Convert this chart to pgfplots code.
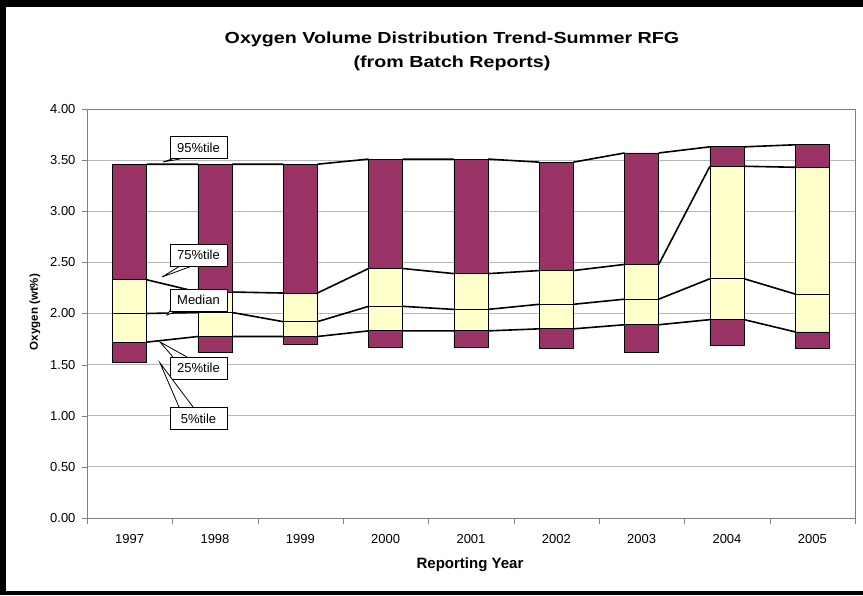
\documentclass[border=0pt]{standalone}
\usepackage{graphicx}
\usepackage{pgfplots}
\usepackage{pgfplotstable}
\pgfplotsset{compat=1.18}
\usepackage{fontspec}
\setmainfont{Liberation Sans}

\definecolor{plum}{HTML}{993366}
\definecolor{cream}{HTML}{FFFFCC}
\definecolor{gridgray}{HTML}{B8B8B8}
\definecolor{axgray}{HTML}{808080}

% percentiles of oxygen (wt%) per reporting year, 0 = 1997
\pgfplotstableread{
x  p5    p25   p50  p75  p95
0  1.525 1.72  2.00 2.33 3.46
1  1.62  1.775 2.01 2.21 3.46
2  1.70  1.775 1.92 2.20 3.46
3  1.67  1.83  2.07 2.44 3.51
4  1.67  1.83  2.04 2.39 3.51
5  1.655 1.85  2.09 2.42 3.48
6  1.62  1.89  2.14 2.48 3.57
7  1.69  1.94  2.34 3.44 3.63
8  1.655 1.82  2.19 3.43 3.65
}\oxy

% series lines, from the right edge of one bar to the left edge of the next
\pgfplotstableread{
x   p25   p50  p75  p95
0.2 1.72  2.00 2.33 3.46
0.8 1.775 2.01 2.21 3.46
nan nan   nan  nan  nan
1.2 1.775 2.01 2.21 3.46
1.8 1.775 1.92 2.20 3.46
nan nan   nan  nan  nan
2.2 1.775 1.92 2.20 3.46
2.8 1.83  2.07 2.44 3.51
nan nan   nan  nan  nan
3.2 1.83  2.07 2.44 3.51
3.8 1.83  2.04 2.39 3.51
nan nan   nan  nan  nan
4.2 1.83  2.04 2.39 3.51
4.8 1.85  2.09 2.42 3.48
nan nan   nan  nan  nan
5.2 1.85  2.09 2.42 3.48
5.8 1.89  2.14 2.48 3.57
nan nan   nan  nan  nan
6.2 1.89  2.14 2.48 3.57
6.8 1.94  2.34 3.44 3.63
nan nan   nan  nan  nan
7.2 1.94  2.34 3.44 3.63
7.8 1.82  2.19 3.43 3.65
}\edges

\pgfplotsset{
  frame/.style={
    at={(0pt,0pt)}, anchor=south west,
    scale only axis, width=768pt, height=409pt,
    xmin=-0.5, xmax=8.5, ymin=0, ymax=4,
  },
}

\begin{document}
\begin{tikzpicture}
\begin{axis}[
  frame,
  ybar stacked, bar width=0.4,
  axis line style={draw=axgray},
  ymajorgrids, grid style={draw=gridgray, line width=0.8pt},
  tick align=outside, tick pos=left,
  xtick={0,...,8},
  xticklabels={1997,1998,1999,2000,2001,2002,2003,2004,2005},
  minor xtick={-0.5,0.5,...,8.5},
  major x tick style={draw=none},
  minor x tick style={draw=axgray},
  ytick={0,0.5,...,4},
  major tick length=5pt, minor tick length=6pt,
  ytick style={draw=axgray},
  tick label style={font=\fontsize{13}{14}\selectfont},
  xticklabel style={yshift=-8pt},
  yticklabel style={xshift=-3pt, /pgf/number format/.cd, fixed, fixed zerofill,
    precision=2, assume math mode=true},
]
\addplot[draw=none, fill=none] table[x=x, y=p5] {\oxy};
\addplot[fill=plum, draw=black, line width=0.8pt]
  table[x=x, y expr=\thisrow{p25}-\thisrow{p5}] {\oxy};
\addplot[fill=cream, draw=black, line width=0.8pt]
  table[x=x, y expr=\thisrow{p50}-\thisrow{p25}] {\oxy};
\addplot[fill=cream, draw=black, line width=0.8pt]
  table[x=x, y expr=\thisrow{p75}-\thisrow{p50}] {\oxy};
\addplot[fill=plum, draw=black, line width=0.8pt]
  table[x=x, y expr=\thisrow{p95}-\thisrow{p75}] {\oxy};
\end{axis}

\begin{axis}[frame, hide axis, unbounded coords=jump]
\addplot[black, line width=1.6pt, no marks] table[x=x, y=p25] {\edges};
\addplot[black, line width=1.6pt, no marks] table[x=x, y=p50] {\edges};
\addplot[black, line width=1.6pt, no marks] table[x=x, y=p75] {\edges};
\addplot[black, line width=1.6pt, no marks] table[x=x, y=p95] {\edges};
\end{axis}

\begin{scope}[x=1pt, y=1pt]
\useasboundingbox (-87,-77) rectangle (776,518);
\fill[black] (-87,-77) rectangle (-81,518);
\fill[black] (-87,511) rectangle (776,518);
\fill[black] (-87,-77) rectangle (776,-73);

\node[font=\bfseries\fontsize{16}{18}\selectfont] at (365,479)
  {\scalebox{1.23}[1]{Oxygen Volume Distribution Trend-Summer RFG}};
\node[font=\bfseries\fontsize{16}{18}\selectfont] at (365,455)
  {\scalebox{1.23}[1]{(from Batch Reports)}};
\node[font=\bfseries\fontsize{11.5}{13}\selectfont, rotate=90] at (-52,206)
  {Oxygen (wt\%)};
\node[font=\bfseries\fontsize{15}{17}\selectfont] at (383,-47) {Reporting Year};

% callouts
\tikzset{callout/.style={draw=black, fill=white, line width=0.8pt,
  minimum width=57pt, minimum height=22pt, inner sep=0pt,
  font=\fontsize{13}{14}\selectfont}}
\filldraw[fill=white, line width=0.8pt] (85,359) -- (76,356) -- (93,359);
\node[callout] at (111.5,370.5) {95\%tile};
\filldraw[fill=white, line width=0.8pt] (93,252) -- (75,241) -- (105,252);
\node[callout] at (111.5,263) {75\%tile};
\filldraw[fill=white, line width=0.8pt] (84,209) -- (80,203) -- (90,207);
\node[callout] at (111.5,218) {Median};
\filldraw[fill=white, line width=0.8pt] (86,161) -- (73,176) -- (100,161);
\node[callout] at (111.5,150) {25\%tile};
\filldraw[fill=white, line width=0.8pt] (92,111) -- (73,155) -- (106,111);
\node[callout] at (111.5,99.5) {5\%tile};
\end{scope}
\end{tikzpicture}
\end{document}
